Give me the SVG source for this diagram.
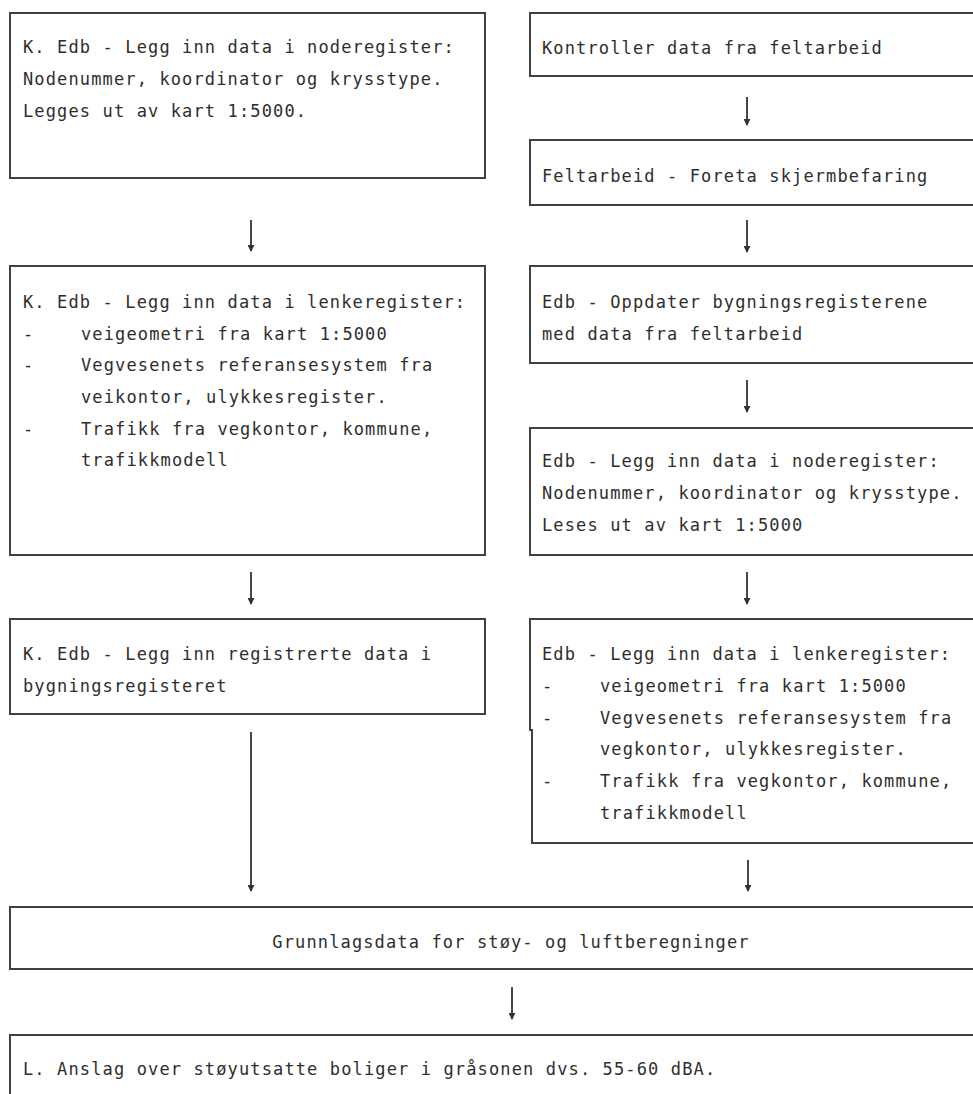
<svg xmlns="http://www.w3.org/2000/svg" width="973" height="1094" viewBox="0 0 973 1094">
  <style>
    .box { fill: #ffffff; stroke: #404040; stroke-width: 2; }
    .t { font-family: "DejaVu Sans Mono", "Liberation Mono", monospace; font-size: 17px; letter-spacing: 1.13px; fill: #2e2e2e; }
    .link { stroke: #333333; stroke-width: 1.8; fill: none; marker-end: url(#tip); }
  </style>
  <defs>
    <marker id="tip" viewBox="0 0 8 8" refX="7" refY="4" markerWidth="7" markerHeight="7" markerUnits="userSpaceOnUse" orient="auto">
      <path d="M0,0 L8,4 L0,8 Z" fill="#333333"/>
    </marker>
  </defs>
  <rect width="973" height="1094" fill="#ffffff"/>

  <!-- left column -->
  <g id="node-noderegister-k">
    <rect class="box" x="10" y="13" width="475" height="165"/>
    <text class="t" x="23" y="53">K. Edb - Legg inn data i noderegister:</text>
    <text class="t" x="23" y="85">Nodenummer, koordinator og krysstype.</text>
    <text class="t" x="23" y="117">Legges ut av kart 1:5000.</text>
  </g>

  <g id="node-lenkeregister-k">
    <rect class="box" x="10" y="266" width="475" height="289"/>
    <text class="t" x="23" y="308">K. Edb - Legg inn data i lenkeregister:</text>
    <text class="t" x="23" y="340">-</text>
    <text class="t" x="81" y="340">veigeometri fra kart 1:5000</text>
    <text class="t" x="23" y="371">-</text>
    <text class="t" x="81" y="371">Vegvesenets referansesystem fra</text>
    <text class="t" x="81" y="403">veikontor, ulykkesregister.</text>
    <text class="t" x="23" y="435">-</text>
    <text class="t" x="81" y="435">Trafikk fra vegkontor, kommune,</text>
    <text class="t" x="81" y="466">trafikkmodell</text>
  </g>

  <g id="node-bygningsregister-k">
    <rect class="box" x="10" y="619" width="475" height="95"/>
    <text class="t" x="23" y="660">K. Edb - Legg inn registrerte data i</text>
    <text class="t" x="23" y="692">bygningsregisteret</text>
  </g>

  <!-- right column -->
  <g id="node-kontroller">
    <rect class="box" x="530" y="13" width="460" height="63"/>
    <text class="t" x="542" y="54">Kontroller data fra feltarbeid</text>
  </g>

  <g id="node-feltarbeid">
    <rect class="box" x="530" y="140" width="460" height="65"/>
    <text class="t" x="542" y="182">Feltarbeid - Foreta skjermbefaring</text>
  </g>

  <g id="node-oppdater">
    <rect class="box" x="530" y="266" width="460" height="97"/>
    <text class="t" x="542" y="308">Edb - Oppdater bygningsregisterene</text>
    <text class="t" x="542" y="340">med data fra feltarbeid</text>
  </g>

  <g id="node-noderegister">
    <rect class="box" x="530" y="428" width="460" height="127"/>
    <text class="t" x="542" y="467">Edb - Legg inn data i noderegister:</text>
    <text class="t" x="542" y="499">Nodenummer, koordinator og krysstype.</text>
    <text class="t" x="542" y="531">Leses ut av kart 1:5000</text>
  </g>

  <g id="node-lenkeregister">
    <path class="box" d="M990,619 H530 V730 H532 V843 H990"/>
    <text class="t" x="542" y="660">Edb - Legg inn data i lenkeregister:</text>
    <text class="t" x="542" y="692">-</text>
    <text class="t" x="600" y="692">veigeometri fra kart 1:5000</text>
    <text class="t" x="542" y="724">-</text>
    <text class="t" x="600" y="724">Vegvesenets referansesystem fra</text>
    <text class="t" x="600" y="755">vegkontor, ulykkesregister.</text>
    <text class="t" x="542" y="787">-</text>
    <text class="t" x="600" y="787">Trafikk fra vegkontor, kommune,</text>
    <text class="t" x="600" y="819">trafikkmodell</text>
  </g>

  <!-- bottom row -->
  <g id="node-grunnlagsdata">
    <rect class="box" x="10" y="907" width="980" height="62"/>
    <text class="t" x="511" y="948" text-anchor="middle">Grunnlagsdata for støy- og luftberegninger</text>
  </g>

  <g id="node-anslag">
    <rect class="box" x="10" y="1035" width="980" height="80"/>
    <text class="t" x="23" y="1075">L. Anslag over støyutsatte boliger i gråsonen dvs. 55-60 dBA.</text>
  </g>

  <!-- connectors -->
  <g id="connectors">
    <line class="link" x1="251" y1="220" x2="251" y2="251"/>
    <line class="link" x1="251" y1="572" x2="251" y2="604"/>
    <line class="link" x1="251" y1="732" x2="251" y2="891"/>
    <line class="link" x1="747" y1="97" x2="747" y2="125"/>
    <line class="link" x1="747" y1="220" x2="747" y2="252"/>
    <line class="link" x1="747" y1="380" x2="747" y2="412"/>
    <line class="link" x1="747" y1="572" x2="747" y2="604"/>
    <line class="link" x1="748" y1="860" x2="748" y2="891"/>
    <line class="link" x1="512" y1="987" x2="512" y2="1019"/>
  </g>
</svg>
